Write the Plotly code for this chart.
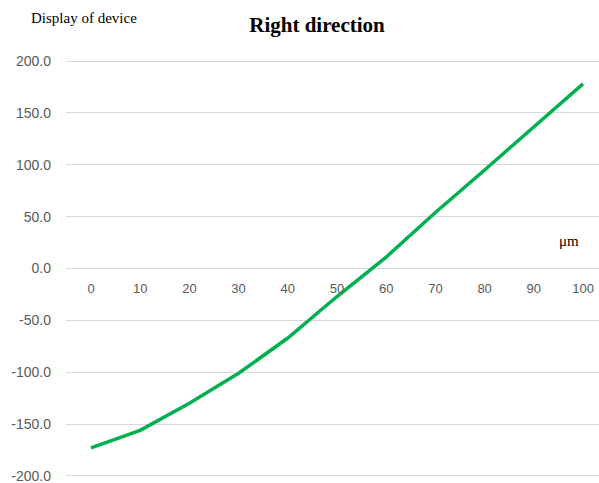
import plotly.graph_objects as go

x_um = [0, 10, 20, 30, 40, 50, 60, 70, 80, 90, 100]
display_vals = [-173, -156, -130, -101, -67, -27, 11, 54, 95, 136, 178]
y_ticks = [-200, -150, -100, -50, 0, 50, 100, 150, 200]
y_tick_labels = [f"{v:.1f}" for v in y_ticks]

fig = go.Figure()
fig.add_trace(go.Scatter(
    x=x_um, y=display_vals, mode="lines",
    line=dict(color="#00b050", width=3.5),
    showlegend=False, hoverinfo="skip",
))

T, B, L = 60, 6, 66
PH = 483 - T - B
PW = 599 - L

fig.update_layout(
    width=599, height=483,
    margin=dict(l=L, r=0, t=T, b=B),
    paper_bgcolor="white", plot_bgcolor="white",
    title=dict(text="<b>Right direction</b>", x=317/599, xanchor="center",
               y=1 - 25/483, yanchor="middle",
               font=dict(family="Liberation Serif", size=21, color="black")),
    xaxis=dict(
        range=[-5.08, 103.25], tickmode="array", tickvals=x_um,
        ticktext=[str(v) for v in x_um],
        showgrid=False, zeroline=False, showline=False,
        anchor="free", position=0.5,
        ticks="outside", ticklen=8, tickcolor="rgba(0,0,0,0)",
        tickfont=dict(family="Liberation Sans", size=13, color="#595959"),
    ),
    yaxis=dict(
        range=[-201, 201], tickmode="array", tickvals=y_ticks,
        ticktext=y_tick_labels,
        showgrid=True, gridcolor="#d9d9d9", gridwidth=1,
        zeroline=True, zerolinecolor="#d9d9d9", zerolinewidth=1,
        showline=False, ticks="", ticklabelstandoff=14,
        ticklabeloverflow="allow",
        tickfont=dict(family="Liberation Sans", size=14, color="#595959"),
    ),
    annotations=[
        dict(text="Display of device", xref="paper", yref="paper",
             x=(29 - L)/PW, y=1 + (T-18)/PH, xanchor="left", yanchor="middle",
             showarrow=False, font=dict(family="Liberation Serif", size=15, color="black")),
        dict(text="μm", xref="paper", yref="paper",
             x=(569 - L)/PW, y=(483 - B - 241)/PH, xanchor="center", yanchor="middle",
             showarrow=False, font=dict(family="Liberation Serif", size=15, color="black")),
    ],
)

fig.write_html("out.html", config={"displayModeBar": False},
               post_script="document.body.style.margin='0';document.body.style.overflow='hidden';")
